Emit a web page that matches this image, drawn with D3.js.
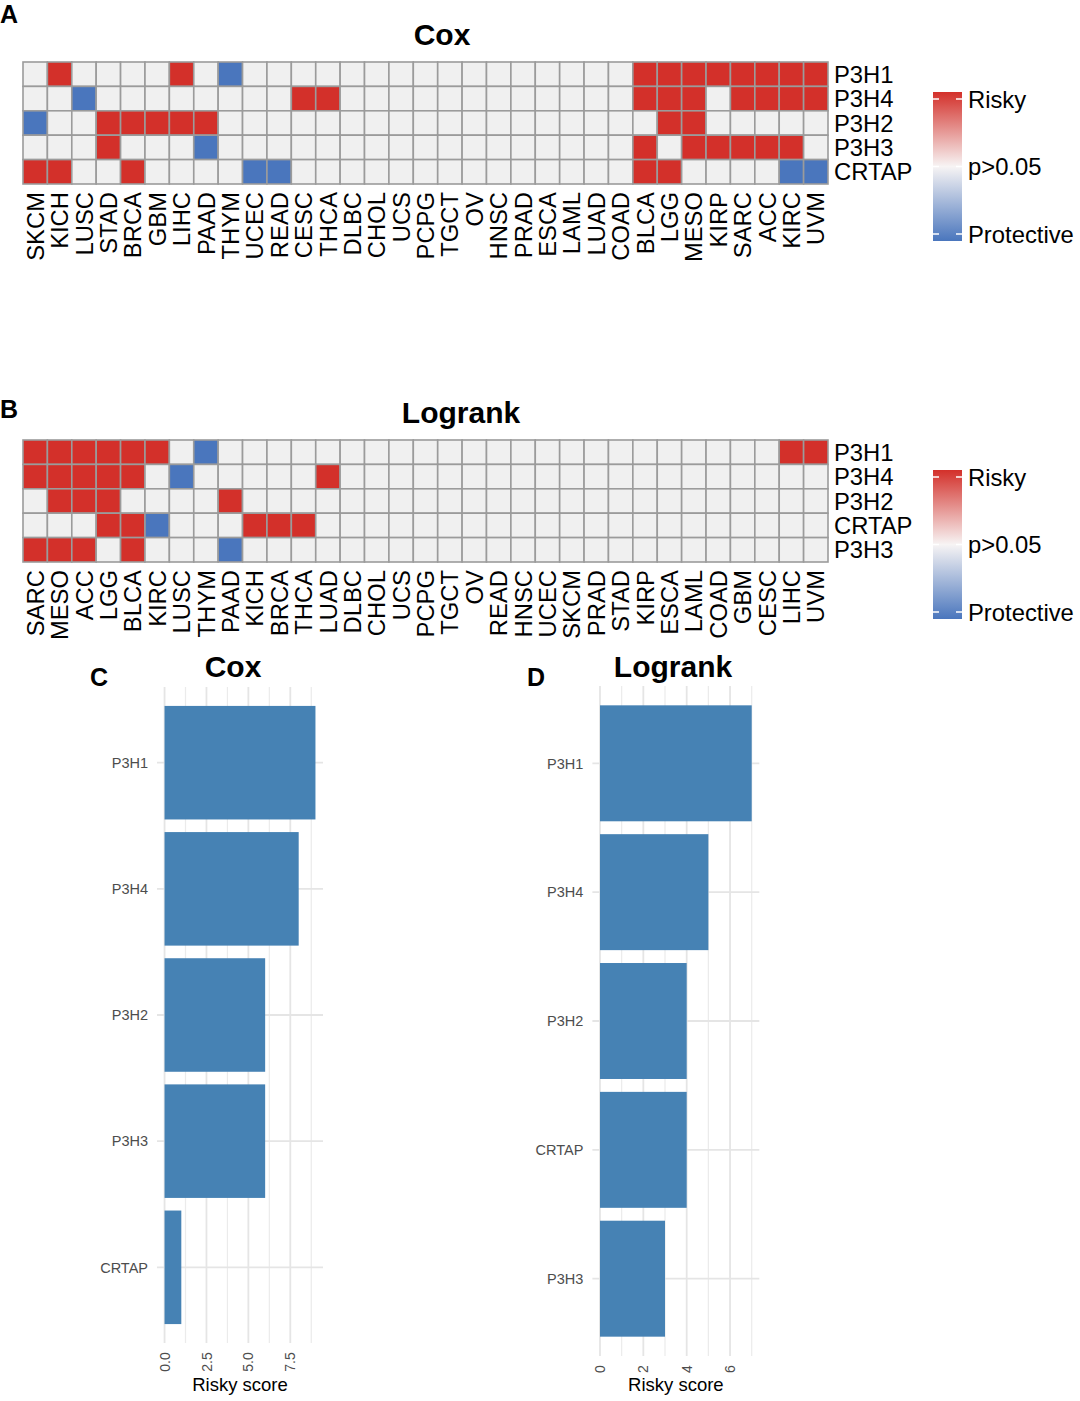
<!DOCTYPE html>
<html>
<head>
<meta charset="utf-8">
<script src="https://cdn.jsdelivr.net/npm/d3@7"></script>
<style>
  body { margin: 0; background: #fff; }
  svg { display: block; font-family: Arial, 'Liberation Sans', Helvetica, sans-serif; }
</style>
</head>
<body>
<svg id="chart" width="1080" height="1401"></svg>
<script>
/* global d3 */

// 1 = risky, -1 = protective, 0 = p>0.05
const coxGenes = ['P3H1', 'P3H4', 'P3H2', 'P3H3', 'CRTAP']
const coxCancers = ['SKCM', 'KICH', 'LUSC', 'STAD', 'BRCA', 'GBM', 'LIHC', 'PAAD', 'THYM', 'UCEC', 'READ',
  'CESC', 'THCA', 'DLBC', 'CHOL', 'UCS', 'PCPG', 'TGCT', 'OV', 'HNSC', 'PRAD', 'ESCA', 'LAML', 'LUAD',
  'COAD', 'BLCA', 'LGG', 'MESO', 'KIRP', 'SARC', 'ACC', 'KIRC', 'UVM']
const coxP3H1 = [0, 1, 0, 0, 0, 0, 1, 0, -1, 0, 0, 0, 0, 0, 0, 0, 0, 0, 0, 0, 0, 0, 0, 0, 0, 1, 1, 1, 1, 1, 1, 1, 1]
const coxP3H4 = [0, 0, -1, 0, 0, 0, 0, 0, 0, 0, 0, 1, 1, 0, 0, 0, 0, 0, 0, 0, 0, 0, 0, 0, 0, 1, 1, 1, 0, 1, 1, 1, 1]
const coxP3H2 = [-1, 0, 0, 1, 1, 1, 1, 1, 0, 0, 0, 0, 0, 0, 0, 0, 0, 0, 0, 0, 0, 0, 0, 0, 0, 0, 1, 1, 0, 0, 0, 0, 0]
const coxP3H3 = [0, 0, 0, 1, 0, 0, 0, -1, 0, 0, 0, 0, 0, 0, 0, 0, 0, 0, 0, 0, 0, 0, 0, 0, 0, 1, 0, 1, 1, 1, 1, 1, 0]
const coxCRTAP = [1, 1, 0, 0, 1, 0, 0, 0, 0, -1, -1, 0, 0, 0, 0, 0, 0, 0, 0, 0, 0, 0, 0, 0, 0, 1, 1, 0, 0, 0, 0, -1, -1]

const logGenes = ['P3H1', 'P3H4', 'P3H2', 'CRTAP', 'P3H3']
const logCancers = ['SARC', 'MESO', 'ACC', 'LGG', 'BLCA', 'KIRC', 'LUSC', 'THYM', 'PAAD', 'KICH', 'BRCA',
  'THCA', 'LUAD', 'DLBC', 'CHOL', 'UCS', 'PCPG', 'TGCT', 'OV', 'READ', 'HNSC', 'UCEC', 'SKCM', 'PRAD',
  'STAD', 'KIRP', 'ESCA', 'LAML', 'COAD', 'GBM', 'CESC', 'LIHC', 'UVM']
const logP3H1 = [1, 1, 1, 1, 1, 1, 0, -1, 0, 0, 0, 0, 0, 0, 0, 0, 0, 0, 0, 0, 0, 0, 0, 0, 0, 0, 0, 0, 0, 0, 0, 1, 1]
const logP3H4 = [1, 1, 1, 1, 1, 0, -1, 0, 0, 0, 0, 0, 1, 0, 0, 0, 0, 0, 0, 0, 0, 0, 0, 0, 0, 0, 0, 0, 0, 0, 0, 0, 0]
const logP3H2 = [0, 1, 1, 1, 0, 0, 0, 0, 1, 0, 0, 0, 0, 0, 0, 0, 0, 0, 0, 0, 0, 0, 0, 0, 0, 0, 0, 0, 0, 0, 0, 0, 0]
const logCRTAP = [0, 0, 0, 1, 1, -1, 0, 0, 0, 1, 1, 1, 0, 0, 0, 0, 0, 0, 0, 0, 0, 0, 0, 0, 0, 0, 0, 0, 0, 0, 0, 0, 0]
const logP3H3 = [1, 1, 1, 0, 1, 0, 0, 0, -1, 0, 0, 0, 0, 0, 0, 0, 0, 0, 0, 0, 0, 0, 0, 0, 0, 0, 0, 0, 0, 0, 0, 0, 0]

const legendLabels = ['Risky', 'p>0.05', 'Protective']

// risky scores for the bar panels
const coxScores = [9, 8, 6, 6, 1]
const coxTicks = [0, 2.5, 5, 7.5]
const logScores = [7, 5, 4, 4, 3]
const logTicks = [0, 2, 4, 6]

const red = '#D3302A'
const blue = '#4A76BD'
const grey = '#F0F0F0'

const svg = d3.select('#chart')

const defs = svg.append('defs')
const grad = defs.append('linearGradient')
  .attr('id', 'legend-grad')
  .attr('x1', 0).attr('x2', 0).attr('y1', 0).attr('y2', 1)
grad.append('stop').attr('offset', '0%').attr('stop-color', red)
grad.append('stop').attr('offset', '50%').attr('stop-color', '#F7F4F4')
grad.append('stop').attr('offset', '100%').attr('stop-color', blue)

function renderHeatmap (opts) {
  const x = d3.scaleBand().domain(opts.cancers).range([23, 828])
  const y = d3.scaleBand().domain(opts.genes).range([opts.top, opts.top + 122])
  const fill = v => v > 0 ? red : v < 0 ? blue : grey

  const g = svg.append('g')

  g.append('text')
    .attr('x', 0).attr('y', opts.tagY)
    .attr('font-size', 25).attr('font-weight', 'bold')
    .text(opts.tag)

  g.append('text')
    .attr('x', opts.titleX).attr('y', opts.top - 17)
    .attr('text-anchor', 'middle')
    .attr('font-size', 30).attr('font-weight', 'bold')
    .text(opts.title)

  const cells = []
  opts.genes.forEach((gene, i) => {
    opts.rows[i].forEach((v, j) => cells.push({ gene: gene, cancer: opts.cancers[j], value: v }))
  })

  g.append('g')
    .selectAll('rect').data(cells).enter().append('rect')
    .attr('x', d => x(d.cancer))
    .attr('y', d => y(d.gene))
    .attr('width', x.bandwidth())
    .attr('height', y.bandwidth())
    .attr('fill', d => fill(d.value))
    .attr('stroke', '#9B9B9B')
    .attr('stroke-width', 1.6)

  g.append('g')
    .selectAll('text').data(opts.genes).enter().append('text')
    .attr('x', 834)
    .attr('y', d => y(d) + y.bandwidth() / 2)
    .attr('dy', '0.36em')
    .attr('font-size', 23.8)
    .text(d => d)

  g.append('g')
    .selectAll('text').data(opts.cancers).enter().append('text')
    .attr('transform', d => `translate(${x(d) + x.bandwidth() / 2},${opts.top + 130}) rotate(-90)`)
    .attr('dy', '0.36em')
    .attr('text-anchor', 'end')
    .attr('font-size', 23.8)
    .text(d => d)

  // colour bar legend
  const ly = d3.scalePoint().domain(legendLabels).range([opts.top + 37, opts.top + 172])
  const lg = g.append('g')
  lg.append('rect')
    .attr('x', 933).attr('y', opts.top + 30)
    .attr('width', 29).attr('height', 149)
    .attr('fill', 'url(#legend-grad)')
  legendLabels.forEach(l => {
    lg.append('line').attr('x1', 933).attr('x2', 939).attr('y1', ly(l)).attr('y2', ly(l))
      .attr('stroke', '#fff').attr('stroke-width', 1.5)
    lg.append('line').attr('x1', 956).attr('x2', 962).attr('y1', ly(l)).attr('y2', ly(l))
      .attr('stroke', '#fff').attr('stroke-width', 1.5)
    lg.append('text')
      .attr('x', 968).attr('y', ly(l))
      .attr('dy', '0.36em')
      .attr('font-size', 23.8)
      .text(l)
  })
}

function renderBars (opts) {
  const x = d3.scaleLinear().domain(opts.domain).range(opts.xRange)
  const y = d3.scaleBand().domain(opts.genes).range(opts.yRange)
    .paddingInner(0.1).paddingOuter(0.15)

  const g = svg.append('g')
  const top = opts.yRange[0]
  const bottom = opts.yRange[1]

  g.append('text')
    .attr('x', opts.tagX).attr('y', 686)
    .attr('font-size', 25).attr('font-weight', 'bold')
    .text(opts.tag)

  g.append('text')
    .attr('x', opts.titleX).attr('y', 677)
    .attr('text-anchor', 'middle')
    .attr('font-size', 30).attr('font-weight', 'bold')
    .text(opts.title)

  // grid
  g.append('g')
    .selectAll('line').data(opts.minor).enter().append('line')
    .attr('x1', d => x(d)).attr('x2', d => x(d))
    .attr('y1', top).attr('y2', bottom)
    .attr('stroke', '#EBEBEB').attr('stroke-width', 1.2)
  g.append('g')
    .selectAll('line').data(opts.ticks).enter().append('line')
    .attr('x1', d => x(d)).attr('x2', d => x(d))
    .attr('y1', top).attr('y2', bottom)
    .attr('stroke', '#E5E5E5').attr('stroke-width', 1.8)
  g.append('g')
    .selectAll('line').data(opts.genes).enter().append('line')
    .attr('x1', opts.xRange[0]).attr('x2', opts.xRange[1])
    .attr('y1', d => y(d) + y.bandwidth() / 2).attr('y2', d => y(d) + y.bandwidth() / 2)
    .attr('stroke', '#E5E5E5').attr('stroke-width', 1.8)

  g.append('g')
    .attr('fill', '#4682B4')
    .selectAll('rect').data(opts.scores).enter().append('rect')
    .attr('x', x(0))
    .attr('y', (d, i) => y(opts.genes[i]))
    .attr('width', d => x(d) - x(0))
    .attr('height', y.bandwidth())

  g.append('g')
    .selectAll('text').data(opts.genes).enter().append('text')
    .attr('x', opts.xRange[0] - 9)
    .attr('y', d => y(d) + y.bandwidth() / 2)
    .attr('dy', '0.36em')
    .attr('text-anchor', 'end')
    .attr('font-size', 14.5)
    .attr('fill', '#4D4D4D')
    .text(d => d)

  g.append('g')
    .selectAll('text').data(opts.ticks).enter().append('text')
    .attr('transform', d => `translate(${x(d)},${opts.tickY}) rotate(-90)`)
    .attr('dy', '0.36em')
    .attr('text-anchor', 'middle')
    .attr('font-size', 14)
    .attr('fill', '#4D4D4D')
    .text(d3.format(opts.fmt))

  g.append('text')
    .attr('x', (opts.xRange[0] + opts.xRange[1]) / 2)
    .attr('y', 1391)
    .attr('text-anchor', 'middle')
    .attr('font-size', 18.5)
    .text('Risky score')
}

renderHeatmap({
  tag: 'A', tagY: 23, title: 'Cox', titleX: 442, top: 62,
  genes: coxGenes, cancers: coxCancers,
  rows: [coxP3H1, coxP3H4, coxP3H2, coxP3H3, coxCRTAP]
})

renderHeatmap({
  tag: 'B', tagY: 418, title: 'Logrank', titleX: 461, top: 440,
  genes: logGenes, cancers: logCancers,
  rows: [logP3H1, logP3H4, logP3H2, logCRTAP, logP3H3]
})

renderBars({
  tag: 'C', tagX: 90, title: 'Cox', titleX: 233,
  genes: coxGenes, scores: coxScores,
  domain: [-0.45, 9.45], xRange: [157, 323], yRange: [687, 1343],
  ticks: coxTicks, minor: [1.25, 3.75, 6.25, 8.75], fmt: '.1f', tickY: 1362
})

renderBars({
  tag: 'D', tagX: 527, title: 'Logrank', titleX: 673,
  genes: logGenes, scores: logScores,
  domain: [-0.35, 7.35], xRange: [592.4, 759.3], yRange: [686, 1356],
  ticks: logTicks, minor: [1, 3, 5, 7], fmt: 'd', tickY: 1369
})
</script>
</body>
</html>
